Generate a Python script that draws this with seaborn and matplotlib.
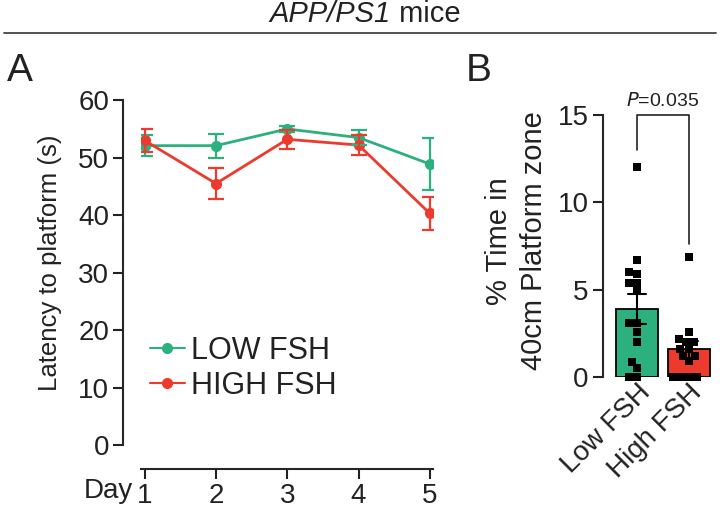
import matplotlib
matplotlib.use("Agg")
import matplotlib.pyplot as plt
from matplotlib.lines import Line2D
import seaborn as sns
import pandas as pd

# ---- data ----
days = [1, 2, 3, 4, 5]
day_labels = ["1", "2", "3", "4", "5"]
low_mean = [52.1, 52.1, 55.0, 53.5, 48.9]
low_sem = [1.8, 2.1, 0.6, 1.3, 4.6]
high_mean = [53.0, 45.5, 53.2, 52.2, 40.3]
high_sem = [2.0, 2.75, 1.6, 1.8, 2.8]

groups_b = ["Low FSH", "High FSH"]
low_pts = [12.05, 6.7, 5.9, 6.0, 5.4, 5.4, 4.9, 3.1, 3.1, 2.55, 2.0, 0.85, 0.5, 0, 0]
high_pts = [6.9, 2.6, 2.0, 2.2, 2.0, 1.6, 1.6, 1.2, 1.2, 0.9, 0, 0, 0, 0]
p_text = "=0.035"

green = "#2bb07e"
red = "#ec3a2c"
ink = "#222222"

sns.set_theme(style="ticks")
plt.rcParams["font.family"] = ["Liberation Sans", "DejaVu Sans"]
plt.rcParams["text.color"] = ink
plt.rcParams["axes.labelcolor"] = ink
plt.rcParams["xtick.color"] = ink
plt.rcParams["ytick.color"] = ink

fig = plt.figure(figsize=(7.2, 5.14), dpi=100)

# header
fig.text(0.543, 0.972, "APP/PS1", ha="right", va="center", fontsize=21, style="italic")
fig.text(0.543, 0.972, " mice", ha="left", va="center", fontsize=21)
fig.add_artist(Line2D([0.005, 0.995], [0.936, 0.936], color="#444444", lw=1.3))
fig.text(0.01, 0.862, "A", fontsize=28, va="center")
fig.text(0.647, 0.862, "B", fontsize=28, va="center")

# ---- panel A ----
ax = fig.add_axes([0.196, 0.134, 0.406, 0.671])
df_a = pd.DataFrame({
    "day": days * 2,
    "latency": low_mean + high_mean,
    "group": ["LOW FSH"] * 5 + ["HIGH FSH"] * 5,
})
sns.lineplot(data=df_a, x="day", y="latency", hue="group",
             palette={"LOW FSH": green, "HIGH FSH": red},
             marker="o", markersize=8, markeredgewidth=0, linewidth=2,
             ax=ax, legend=False)
ax.errorbar(days, low_mean, yerr=low_sem, fmt="none", ecolor=green,
            elinewidth=1.6, capsize=6, capthick=1.6)
ax.errorbar(days, high_mean, yerr=high_sem, fmt="none", ecolor=red,
            elinewidth=1.6, capsize=6, capthick=1.6)
ax.set_xlim(0.95, 5.05)
ax.set_ylim(0, 60)
ax.set_yticks([0, 10, 20, 30, 40, 50, 60])
ax.set_xticks(days)
ax.set_xticklabels(day_labels)
ax.annotate("Day", xy=(1, 0), xycoords=("data", "axes fraction"),
            xytext=(-12, -33), textcoords="offset pixels",
            ha="right", va="top", fontsize=20)
ax.set_xlabel("")
ax.set_ylabel("Latency to platform (s)", fontsize=18.5)
ax.yaxis.set_label_coords(-0.27, 0.53)
ax.tick_params(labelsize=20, width=1.5, length=7, pad=3)
for s in ["top", "right"]:
    ax.spines[s].set_visible(False)
ax.spines["left"].set_position(("outward", 13))
ax.spines["bottom"].set_position(("outward", 17))
ax.spines["left"].set_linewidth(1.5)
ax.spines["bottom"].set_linewidth(1.5)
handles = [Line2D([], [], color=green, marker="o", markersize=7, lw=1.5),
           Line2D([], [], color=red, marker="o", markersize=7, lw=1.5)]
ax.legend(handles, ["LOW FSH", "HIGH FSH"], loc="center left",
          bbox_to_anchor=(0.03, 0.223), frameon=False, fontsize=22,
          handlelength=1.15, handletextpad=0.2, labelspacing=0.15,
          borderaxespad=0, borderpad=0)

# ---- panel B ----
bx = fig.add_axes([0.8486, 0.2665, 0.1444, 0.5097])
df_b = pd.DataFrame({
    "group": [groups_b[0]] * len(low_pts) + [groups_b[1]] * len(high_pts),
    "value": low_pts + high_pts,
})
sns.barplot(data=df_b, x="group", y="value", hue="group",
            palette=[green, red], saturation=1, errorbar="se", capsize=0.35,
            err_kws={"color": "black", "linewidth": 1.5},
            edgecolor="black", linewidth=1.3, width=0.8, ax=bx, legend=False)
sns.swarmplot(data=df_b, x="group", y="value", color="black", marker="s",
              size=5.5, ax=bx)
for c in bx.collections:
    c.set_clip_on(False)
bx.set_xlim(-0.5, 1.5)
bx.set_ylim(0, 15)
bx.set_yticks([0, 5, 10, 15])
bx.set_xlabel("")
bx.set_ylabel("% Time in\n40cm Platform zone", fontsize=21, linespacing=1.3)
bx.yaxis.set_label_coords(-0.606, 0.52)
bx.tick_params(axis="y", labelsize=20, width=1.5, length=7, pad=3)
bx.tick_params(axis="x", labelsize=20, length=0, pad=2)
for lab in bx.get_xticklabels():
    lab.set_rotation(45)
    lab.set_horizontalalignment("right")
    lab.set_rotation_mode("anchor")
for s in ["top", "right", "bottom"]:
    bx.spines[s].set_visible(False)
bx.spines["left"].set_position(("outward", 6))
bx.spines["left"].set_linewidth(1.5)

# significance bracket
bx.plot([0, 0, 1, 1], [13, 15, 15, 7.6], color=ink, lw=1.2, clip_on=False)
bx.text(0.5, 15.3, "$\\it{P}$" + p_text, ha="center", va="bottom", fontsize=14)

fig.savefig("out.png", dpi=100)
